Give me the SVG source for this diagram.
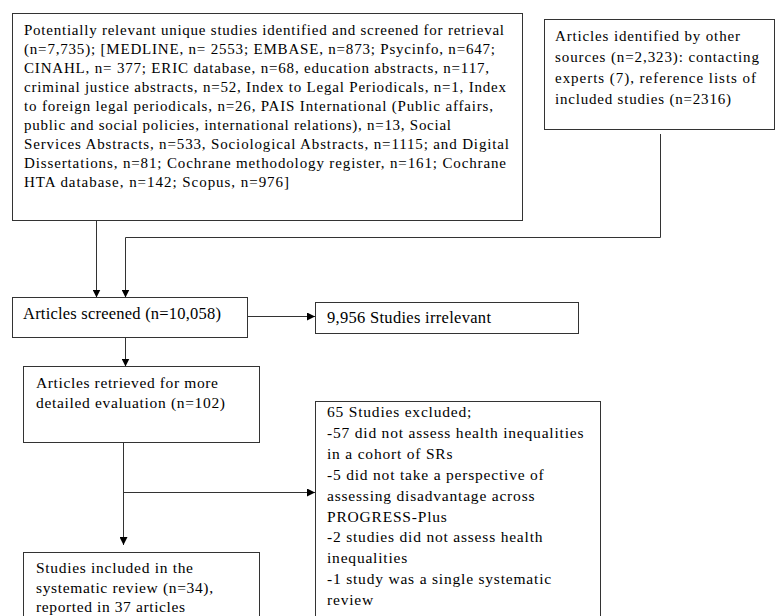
<svg xmlns="http://www.w3.org/2000/svg" width="776" height="616" viewBox="0 0 776 616">
<defs>
<style>
.box{fill:#fff;stroke:#333;stroke-width:1}
.t{font-family:'Liberation Serif','DejaVu Serif','Times New Roman',serif;font-size:15px;fill:#000}
.big{font-size:16.5px}
.mid{font-size:15.5px}
.ex{font-size:15.5px;letter-spacing:0.8px}
.con{fill:none;stroke:#333;stroke-width:1}
</style>
<marker id="ah" viewBox="0 0 8 8" refX="8" refY="4" markerWidth="8" markerHeight="8" markerUnits="userSpaceOnUse" orient="auto">
<path d="M0,0 L8,4 L0,8 z" fill="#000"/>
</marker>
</defs>
<rect width="776" height="616" fill="#fff"/>
<g id="connectors">
<path class="con" d="M96.5,221 V297.5" marker-end="url(#ah)"/>
<path class="con" d="M660.5,134 V237.5 H125.5 V297.5" marker-end="url(#ah)"/>
<path class="con" d="M248,316.5 H315" marker-end="url(#ah)"/>
<path class="con" d="M125.5,338 V366.5" marker-end="url(#ah)"/>
<path class="con" d="M123.5,443 V545" marker-end="url(#ah)"/>
<path class="con" d="M123.5,492.5 H315" marker-end="url(#ah)"/>
</g>
<g id="n1">
<rect class="box" x="12.5" y="13.5" width="510" height="207"/>
<text class="t" x="24" y="35" textLength="480" lengthAdjust="spacing">Potentially relevant unique studies identified and screened for retrieval</text>
<text class="t" x="24" y="54" textLength="471" lengthAdjust="spacing">(n=7,735); [MEDLINE, n= 2553; EMBASE, n=873; Psycinfo, n=647;</text>
<text class="t" x="24" y="73" textLength="465" lengthAdjust="spacing">CINAHL, n= 377; ERIC database, n=68, education abstracts, n=117,</text>
<text class="t" x="24" y="92" textLength="482" lengthAdjust="spacing">criminal justice abstracts, n=52, Index to Legal Periodicals, n=1, Index</text>
<text class="t" x="24" y="111" textLength="469" lengthAdjust="spacing">to foreign legal periodicals, n=26, PAIS International (Public affairs,</text>
<text class="t" x="24" y="130" textLength="427" lengthAdjust="spacing">public and social policies, international relations), n=13, Social</text>
<text class="t" x="24" y="149" textLength="485" lengthAdjust="spacing">Services Abstracts, n=533, Sociological Abstracts, n=1115; and Digital</text>
<text class="t" x="24" y="168" textLength="482" lengthAdjust="spacing">Dissertations, n=81; Cochrane methodology register, n=161; Cochrane</text>
<text class="t" x="24" y="187" textLength="265" lengthAdjust="spacing">HTA database, n=142; Scopus, n=976]</text>
</g>
<g id="n2">
<rect class="box" x="544.5" y="19.5" width="230" height="110"/>
<text class="t" x="555" y="41" textLength="185" lengthAdjust="spacing">Articles identified by other</text>
<text class="t" x="555" y="62" textLength="204" lengthAdjust="spacing">sources (n=2,323): contacting</text>
<text class="t" x="555" y="83" textLength="201" lengthAdjust="spacing">experts (7), reference lists of</text>
<text class="t" x="555" y="104" textLength="176" lengthAdjust="spacing">included studies (n=2316)</text>
</g>
<g id="n3">
<rect class="box" x="12.5" y="297.5" width="235" height="40"/>
<text class="t big" x="23" y="319" textLength="198" lengthAdjust="spacing">Articles screened (n=10,058)</text>
</g>
<g id="n4">
<rect class="box" x="315.5" y="302.5" width="263" height="31"/>
<text class="t big" x="327" y="323" textLength="164" lengthAdjust="spacing">9,956 Studies irrelevant</text>
</g>
<g id="n5">
<rect class="box" x="23.5" y="366.5" width="236" height="76"/>
<text class="t mid" x="36" y="388" textLength="182" lengthAdjust="spacing">Articles retrieved for more</text>
<text class="t mid" x="36" y="408" textLength="189" lengthAdjust="spacing">detailed evaluation (n=102)</text>
</g>
<g id="n6">
<rect class="box" x="23.5" y="552.5" width="236" height="80"/>
<text class="t mid" x="36" y="573" textLength="157" lengthAdjust="spacing">Studies included in the</text>
<text class="t mid" x="36" y="593" textLength="177" lengthAdjust="spacing">systematic review (n=34),</text>
<text class="t mid" x="36" y="612" textLength="149" lengthAdjust="spacing">reported in 37 articles</text>
</g>
<g id="n7">
<rect class="box" x="315.5" y="401.5" width="285" height="230"/>
<text class="t ex" x="327" y="417">65 Studies excluded;</text>
<text class="t ex" x="327" y="437.9">-57 did not assess health inequalities</text>
<text class="t ex" x="327" y="458.8">in a cohort of SRs</text>
<text class="t ex" x="327" y="479.7">-5 did not take a perspective of</text>
<text class="t ex" x="327" y="500.6">assessing disadvantage across</text>
<text class="t ex" x="327" y="521.5">PROGRESS-Plus</text>
<text class="t ex" x="327" y="542.4">-2 studies did not assess health</text>
<text class="t ex" x="327" y="563.3">inequalities</text>
<text class="t ex" x="327" y="584.2">-1 study was a single systematic</text>
<text class="t ex" x="327" y="605.1">review</text>
</g>
</svg>
